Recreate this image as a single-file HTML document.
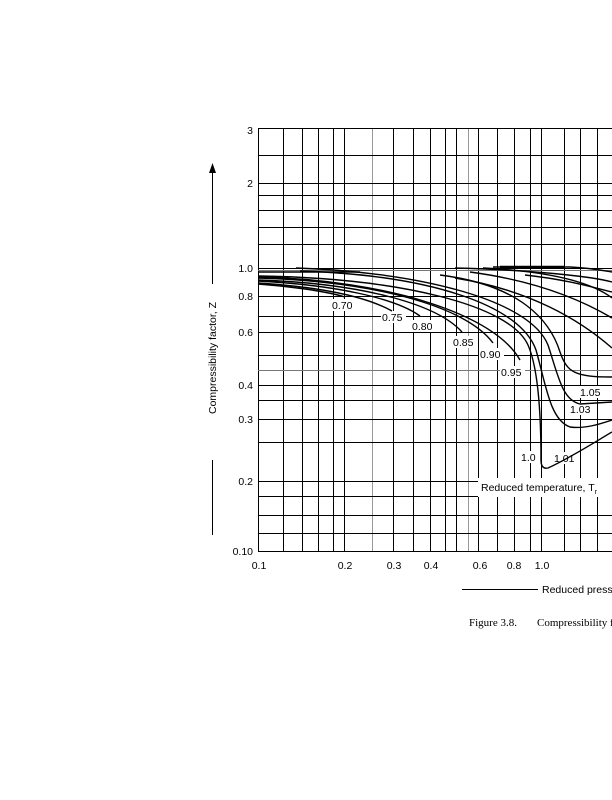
<!DOCTYPE html>
<html><head><meta charset="utf-8"><style>
html,body{margin:0;padding:0;background:#fff;}
svg{display:block}
text{font-family:"Liberation Sans",sans-serif;font-size:10.5px;fill:#000}
</style></head><body>
<svg width="612" height="800" viewBox="0 0 612 800">
<rect width="612" height="800" fill="#fff"/>
<g stroke="#000" stroke-width="1" fill="none">
<path d="M258.5,128V551 M283.5,128V551 M302.5,128V551 M318.5,128V551 M333.5,128V551 M344.5,128V551 M393.5,128V551 M413.5,128V551 M430.5,128V551 M445.5,128V551 M456.5,128V551 M478.5,128V551 M497.5,128V551 M514.5,128V551 M530.5,128V551 M541.5,128V551 M564.5,128V551 M580.5,128V551 M597.5,128V551"/>
<path d="M372.5,128V551 M468.5,128V551" stroke="#999"/>
<path d="M258,128.5H612 M258,155.5H612 M258,183.5H612 M258,195.5H612 M258,210.5H612 M258,227.5H612 M258,244.5H612 M258,268.5H612 M258,296.5H612 M258,316.5H612 M258,332.5H612 M258,355.5H612 M258,385.5H612 M258,400.5H612 M258,419.5H612 M258,442.5H612 M258,481.5H612 M258,496.5H612 M258,515.5H612 M258,533.5H612 M258,551.5H612"/>
<path d="M258,370.5H612 M258,270.5H612" stroke="#777"/>
</g>
<g>
<rect x="331" y="299" width="25" height="12" fill="#fff"/><text x="332" y="309">0.70</text>
<rect x="381" y="311" width="25" height="12" fill="#fff"/><text x="382" y="321">0.75</text>
<rect x="411" y="320" width="25" height="12" fill="#fff"/><text x="412" y="330">0.80</text>
<rect x="452" y="336" width="25" height="12" fill="#fff"/><text x="453" y="346">0.85</text>
<rect x="479" y="348" width="25" height="12" fill="#fff"/><text x="480" y="358">0.90</text>
<rect x="500" y="366" width="25" height="12" fill="#fff"/><text x="501" y="376">0.95</text>
<rect x="579" y="386" width="25" height="12" fill="#fff"/><text x="580" y="396">1.05</text>
<rect x="569" y="403" width="25" height="12" fill="#fff"/><text x="570" y="413">1.03</text>
<rect x="520" y="451" width="17" height="12" fill="#fff"/><text x="521" y="461">1.0</text>
<rect x="553" y="452" width="25" height="12" fill="#fff"/><text x="554" y="462">1.01</text>
<rect x="478" y="478" width="134" height="19" fill="#fff"/><text x="481" y="491">Reduced temperature, T<tspan font-size="7" dy="3">r</tspan></text>
</g>
<g stroke="#000" stroke-width="1.4" fill="none">
<path d="M258,284 C295,287 325,291 345,297"/>
<path d="M258,283 C320,287 365,296 392,311"/>
<path d="M258,281 C335,285 395,298 420,316"/>
<path d="M258,280 C355,283 435,302 462,332"/>
<path d="M258,278 C370,281 465,305 493,343"/>
<path d="M258,277 C390,280 495,315 520,360"/>
<path d="M258,276 C400,278 510,305 528,345 C539,370 541,420 541,460 C541,466 543,469 548,468 C570,458 595,442 612,432"/>
<path d="M300,271 C430,275 520,305 536,350 C546,385 550,420 570,427 C585,429 600,424 612,420"/>
<path d="M296,268 C420,272 530,300 548,345 C558,375 562,400 580,404 L612,402"/>
<path d="M258,272 C300,272 330,272 360,272"/>
<path d="M440,275 C520,285 550,320 560,352 C567,372 574,377 612,377"/>
<path d="M455,278 C530,290 580,320 612,348"/>
<path d="M470,272 C545,282 590,305 612,318"/>
<path d="M483,268 C560,272 595,285 612,298"/>
<path d="M455,268 C530,270 590,276 612,282"/>
<path d="M493,267 L570,267 C590,268 600,270 612,272"/>
<path d="M525,275 C570,280 595,288 612,292"/>
</g>
<path d="M500,267H565" stroke="#000" stroke-width="2.5"/>
<g text-anchor="end">
<text x="253" y="134">3</text>
<text x="253" y="187">2</text>
<text x="253" y="272">1.0</text>
<text x="253" y="300">0.8</text>
<text x="253" y="336">0.6</text>
<text x="253" y="389">0.4</text>
<text x="253" y="423">0.3</text>
<text x="253" y="485">0.2</text>
<text x="253" y="555">0.10</text>
</g>
<g text-anchor="middle">
<text x="259" y="569">0.1</text>
<text x="345" y="569">0.2</text>
<text x="394" y="569">0.3</text>
<text x="431" y="569">0.4</text>
<text x="480" y="569">0.6</text>
<text x="514" y="569">0.8</text>
<text x="542" y="569">1.0</text>
</g>
<path d="M212.5,535V460 M212.5,284V172" stroke="#000" stroke-width="1"/>
<path d="M209,173 L212.5,163 L216,173Z" fill="#000"/>
<text transform="translate(216,358) rotate(-90)" text-anchor="middle">Compressibility factor, Z</text>
<path d="M462,589.5H538" stroke="#000" stroke-width="1"/>
<text x="542" y="593">Reduced pressure, p<tspan font-size="7" dy="3">r</tspan></text>
<text x="469" y="626" style="font-family:'Liberation Serif',serif;font-size:11px">Figure 3.8.</text>
<text x="537" y="626" style="font-family:'Liberation Serif',serif;font-size:11px">Compressibility factor</text>
</svg>
</body></html>
